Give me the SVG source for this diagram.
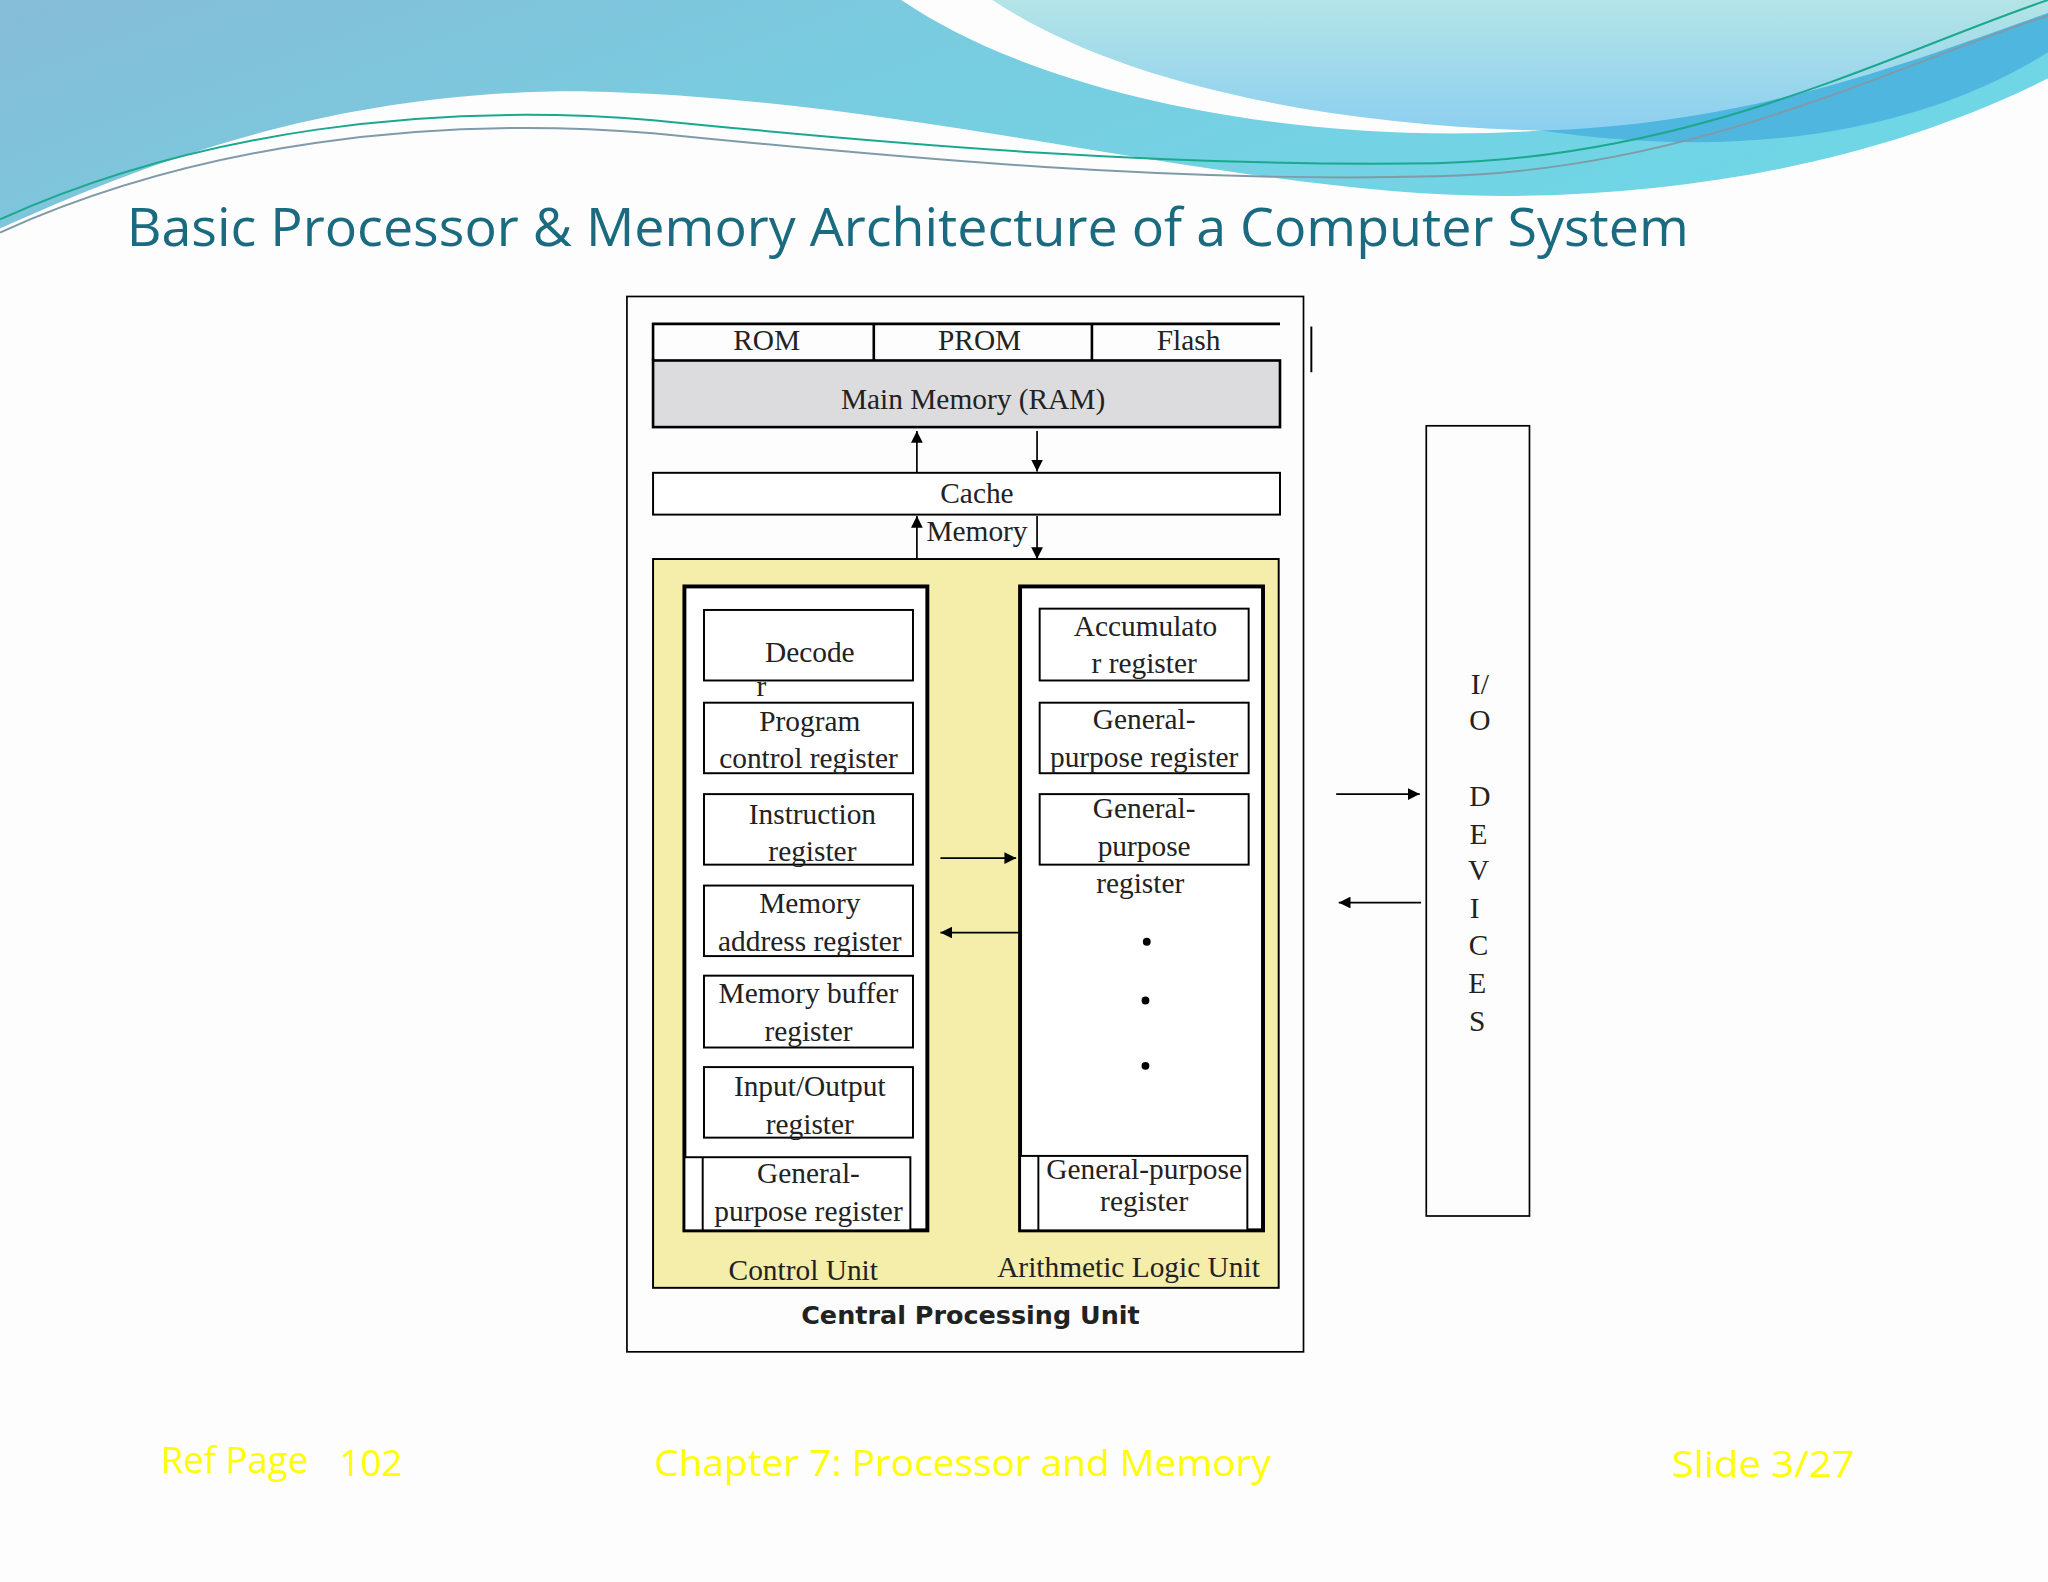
<svg xmlns="http://www.w3.org/2000/svg" width="2048" height="1582" viewBox="0 0 2048 1582">
<defs>
<linearGradient id="gb" x1="0" y1="0" x2="1" y2="0.3"><stop offset="0" stop-color="#86bcd8"/><stop offset="0.5" stop-color="#78cde0"/><stop offset="1" stop-color="#6fd6e6"/></linearGradient>
<linearGradient id="gc" x1="0" y1="0" x2="0" y2="1"><stop offset="0" stop-color="#b4e4e6"/><stop offset="1" stop-color="#8ccff0"/></linearGradient>
<marker id="ah" viewBox="0 0 10 10" refX="10" refY="5" markerWidth="9" markerHeight="9" markerUnits="userSpaceOnUse" orient="auto"><path d="M0,0 L10,5 L0,10 Z" fill="#000"/></marker>
<style>
.b{fill:#fff;stroke:#000;stroke-width:1.5}
.k{fill:#fff;stroke:#000;stroke-width:3}
.t{font-family:"Liberation Serif",serif;font-size:22.5px;fill:#222;text-anchor:middle}
.c{stroke:#000;stroke-width:1.3;fill:none;marker-end:url(#ah)}
.f{font-family:"Open Sans","Noto Sans",sans-serif;font-size:28px;fill:#ffff00}
</style>
</defs>
<rect width="2048" height="1582" fill="#fdfdfd"/>
<g transform="scale(1.30612)">
<g id="background">
<path d="M0,0 H1568 V60 C1450,120 1300,150 1150,150 C950,150 700,75 450,70 C250,68 100,130 0,175 Z" fill="url(#gb)"/>
<path d="M760,0 H1568 V10 C1450,60 1320,100 1180,100 C1000,95 850,60 760,0 Z" fill="url(#gc)"/>
<path d="M690,0 H760 C850,60 1000,95 1180,100 C1000,112 800,75 690,0 Z" fill="#fdfdfd"/>
<path d="M1180,100 C1350,95 1480,40 1568,10 V40 C1480,95 1350,125 1180,100 Z" fill="#4fb6df"/>
<path d="M0,168 C150,100 330,78 500,92 C700,112 900,128 1100,125 C1300,120 1450,40 1568,0" stroke="#1aa88e" stroke-width="1.5" fill="none"/>
<path d="M0,178 C150,110 330,88 500,102 C700,122 900,140 1100,135 C1300,130 1450,50 1568,12" stroke="#7f9aa8" stroke-width="1.5" fill="none"/>
</g>
<text id="title" x="97" y="188" font-family="'Open Sans','Noto Sans',sans-serif" font-size="41" fill="#1a6a80" textLength="1196" lengthAdjust="spacingAndGlyphs">Basic Processor &amp; Memory Architecture of a Computer System</text>
<rect id="outer" x="480" y="227" width="518" height="808" fill="none" stroke="#000" stroke-width="1.3"/>
<line x1="1004" y1="250" x2="1004" y2="285" stroke="#000" stroke-width="1.5"/>
<g id="rom-row">
<path d="M500,276 V248 H980 M669,248 V276 M836,248 V276" fill="none" stroke="#000" stroke-width="2"/>
<text class="t" x="587" y="268">ROM</text><text class="t" x="750" y="268">PROM</text><text class="t" x="910" y="268">Flash</text>
</g>
<g id="main-memory"><rect x="500" y="276" width="480" height="51" fill="#dcdbdd" stroke="#000" stroke-width="2"/><text class="t" x="745" y="313">Main Memory (RAM)</text></g>
<g id="cache"><rect class="b" x="500" y="362" width="480" height="32" stroke-width="2"/><text class="t" x="748" y="385">Cache</text><text class="t" x="748" y="414">Memory</text></g>
<g id="cpu">
<rect x="500" y="428" width="479" height="558" fill="#f5eeab" stroke="#000" stroke-width="1.5"/>
<text class="t" x="615" y="980">Control Unit</text><text class="t" x="864" y="978">Arithmetic Logic Unit</text>
<text x="743" y="1014" font-family="'DejaVu Sans',sans-serif" font-weight="bold" font-size="19.5" fill="#222" text-anchor="middle">Central Processing Unit</text>
</g>
<g id="control-unit">
<rect class="k" x="524" y="449" width="186" height="493"/>
<rect class="b" x="539" y="467" width="160" height="54"/><text class="t" x="620" y="507">Decode</text><text class="t" x="583" y="533">r</text>
<rect class="b" x="539" y="538" width="160" height="54"/><text class="t" x="620" y="560">Program</text><text class="t" x="619" y="588">control register</text>
<rect class="b" x="539" y="608" width="160" height="54"/><text class="t" x="622" y="631">Instruction</text><text class="t" x="622" y="659">register</text>
<rect class="b" x="539" y="678" width="160" height="54"/><text class="t" x="620" y="699">Memory</text><text class="t" x="620" y="728">address register</text>
<rect class="b" x="539" y="747" width="160" height="55"/><text class="t" x="619" y="768">Memory buffer</text><text class="t" x="619" y="797">register</text>
<rect class="b" x="539" y="817" width="160" height="54"/><text class="t" x="620" y="839">Input/Output</text><text class="t" x="620" y="868">register</text>
<rect class="b" x="524" y="886" width="173" height="56"/><line x1="538" y1="886" x2="538" y2="942" stroke="#000" stroke-width="1.5"/><text class="t" x="619" y="906">General-</text><text class="t" x="619" y="935">purpose register</text>
</g>
<g id="alu">
<rect class="k" x="781" y="449" width="186" height="493"/>
<rect class="b" x="796" y="466" width="160" height="55"/><text class="t" x="877" y="487">Accumulato</text><text class="t" x="876" y="515">r register</text>
<rect class="b" x="796" y="538" width="160" height="54"/><text class="t" x="876" y="558">General-</text><text class="t" x="876" y="587">purpose register</text>
<rect class="b" x="796" y="608" width="160" height="54"/><text class="t" x="876" y="626">General-</text><text class="t" x="876" y="655">purpose</text><text class="t" x="873" y="684">register</text>
<circle cx="878" cy="721" r="3" fill="#000"/><circle cx="877" cy="766" r="3" fill="#000"/><circle cx="877" cy="816" r="3" fill="#000"/>
<rect class="b" x="781" y="885" width="174" height="57"/><line x1="795" y1="885" x2="795" y2="942" stroke="#000" stroke-width="1.5"/>
<text class="t" x="876" y="903" font-size="18">General-purpose</text><text class="t" x="876" y="927" font-size="18">register</text>
</g>
<g id="io-devices">
<rect x="1092" y="326" width="79" height="605" fill="none" stroke="#000" stroke-width="1.3"/>
<g class="t"><text x="1133" y="531">I/</text><text x="1133" y="559">O</text><text x="1133" y="617">D</text><text x="1132" y="646">E</text><text x="1132" y="674">V</text><text x="1129" y="703">I</text><text x="1132" y="731">C</text><text x="1131" y="760">E</text><text x="1131" y="789">S</text></g>
</g>
<g id="connectors">
<line class="c" x1="702" y1="362" x2="702" y2="330"/>
<line class="c" x1="794" y1="330" x2="794" y2="361"/>
<line class="c" x1="702" y1="428" x2="702" y2="395"/>
<line class="c" x1="794" y1="395" x2="794" y2="428"/>
<line class="c" x1="720" y1="657" x2="778" y2="657"/>
<line class="c" x1="781" y1="714" x2="720" y2="714"/>
<line class="c" x1="1023" y1="608" x2="1087" y2="608"/>
<line class="c" x1="1088" y1="691" x2="1025" y2="691"/>
</g>
<g id="footer">
<text class="f" x="123" y="1128">Ref Page</text><text class="f" x="260" y="1130">102</text>
<text class="f" x="501" y="1130" textLength="472" lengthAdjust="spacingAndGlyphs">Chapter 7: Processor and Memory</text>
<text class="f" x="1280" y="1131" textLength="140" lengthAdjust="spacingAndGlyphs">Slide 3/27</text>
</g>
</g>
</svg>
